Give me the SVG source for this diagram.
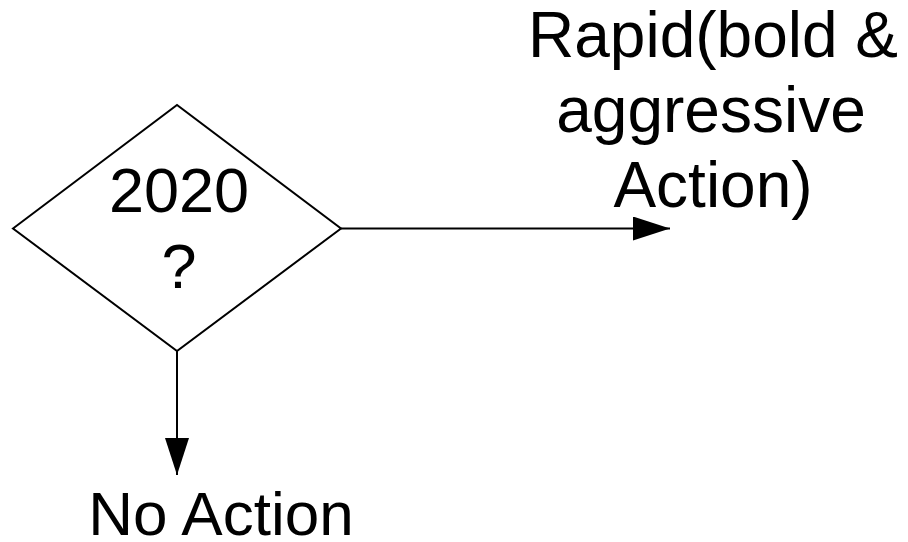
<svg xmlns="http://www.w3.org/2000/svg" width="908" height="542" viewBox="0 0 908 542">
<style>
.t{font-family:"Liberation Sans",Arial,sans-serif;font-size:63px;fill:#000;text-anchor:middle}
.ln{stroke:#000;stroke-width:2;fill:none}
</style>
<defs>
<marker id="ah" markerUnits="userSpaceOnUse" markerWidth="38" markerHeight="24" refX="37" refY="12" orient="auto">
<path d="M0,0 L37,12 L0,24 Z" fill="#000"/>
</marker>
</defs>
<rect width="908" height="542" fill="#fff"/>
<g id="decision">
<polygon class="ln" points="13,228.5 177,105 341,228.5 177,351"/>
<text class="t" x="179" y="212">2020</text>
<text class="t" x="179" y="288">?</text>
</g>
<g id="rapid">
<text class="t" x="713" y="57" style="font-size:64px">Rapid(bold &amp;</text>
<text class="t" x="711" y="132" style="font-size:64px">aggressive</text>
<text class="t" x="713" y="207" style="font-size:64px">Action)</text>
</g>
<g id="noaction">
<text class="t" x="221" y="535" style="font-size:62px">No Action</text>
</g>
<g id="connectors">
<line class="ln" x1="341" y1="228.5" x2="670" y2="228.5" marker-end="url(#ah)"/>
<line class="ln" x1="177" y1="351" x2="177" y2="475" marker-end="url(#ah)"/>
</g>
</svg>
